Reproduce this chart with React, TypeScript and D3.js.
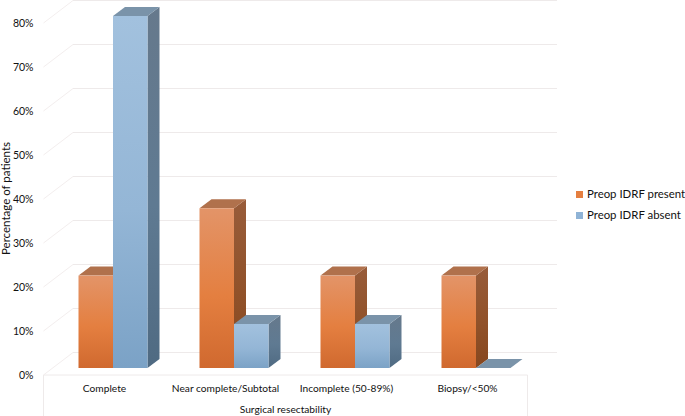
import React from "react";
import * as d3 from "d3";

const categories = ["Complete", "Near complete/Subtotal", "Incomplete (50-89%)", "Biopsy/<50%"];
const seriesNames = ["Preop IDRF present", "Preop IDRF absent"];
const presentValues = [21, 36.3, 21, 21];
const absentValues = [80, 10, 10, 0];
const yTicks = [0, 10, 20, 30, 40, 50, 60, 70, 80];

const W = 685;
const H = 416;

const seriesStyle = [
  { top: "#b0714c", side: "url(#sideOrange)", front: "url(#frontOrange)", key: "#e57f40" },
  { top: "#7a93a9", side: "url(#sideBlue)", front: "url(#frontBlue)", key: "#8fb3d6" },
];

export default function App() {
  // three depths of the fake 3d box: front edge, bars, back wall
  const yFront = d3.scaleLinear().domain([0, 80]).range([375, 23]);
  const yBar = d3.scaleLinear().domain([0, 80]).range([368, 16]);
  const yWall = d3.scaleLinear().domain([0, 80]).range([352.5, 0.5]);

  const xBand = d3.scaleBand().domain(categories).range([43.5, 527.5]);
  const xBarBand = d3.scaleBand().domain(categories).range([52.5, 536.5]);
  const xSeries = d3.scaleBand().domain(seriesNames).range([0, 69]);

  const depthX = 12;
  const depthY = 9;
  const wallDx = 29.5;
  const line = d3.line();
  const gridColor = "#eeeaea";
  const sideColor = "#f3eeee";

  const bars = categories.flatMap((c, i) =>
    [presentValues[i], absentValues[i]].map((v, s) => {
      const x0 = xBarBand(c)! + xBarBand.bandwidth() / 2 - 34.5 + xSeries(seriesNames[s])!;
      const x1 = x0 + xSeries.bandwidth();
      return { c, v, s, x0, x1, yTop: yBar(v), yBase: yBar(0) };
    })
  );

  const shape = (pts: [number, number][]) => line(pts) + "Z";

  return (
    <svg
      width={W}
      height={H}
      style={{ position: "absolute", left: 0, top: 0, background: "#fff" }}
      fontFamily="Lato, sans-serif"
      fontSize={10.2}
      fill="#111"
    >
      <defs>
        <linearGradient id="frontOrange" x1="0" y1="0" x2="0" y2="1">
          <stop offset="0" stopColor="#e39468" />
          <stop offset="0.55" stopColor="#e47f40" />
          <stop offset="1" stopColor="#d0692f" />
        </linearGradient>
        <linearGradient id="sideOrange" x1="0" y1="0" x2="0" y2="1">
          <stop offset="0" stopColor="#985c3a" />
          <stop offset="0.55" stopColor="#91522a" />
          <stop offset="1" stopColor="#86471f" />
        </linearGradient>
        <linearGradient id="frontBlue" x1="0" y1="0" x2="0" y2="1">
          <stop offset="0" stopColor="#a2c1de" />
          <stop offset="0.55" stopColor="#94b6d6" />
          <stop offset="1" stopColor="#7ba2c6" />
        </linearGradient>
        <linearGradient id="sideBlue" x1="0" y1="0" x2="0" y2="1">
          <stop offset="0" stopColor="#66798c" />
          <stop offset="0.55" stopColor="#5f7a92" />
          <stop offset="1" stopColor="#4f6a82" />
        </linearGradient>
      </defs>

      {/* back wall, left wall and floor */}
      {yTicks.map((t) => (
        <g key={t} fill="none">
          <path d={line([[43.5, yFront(t)], [43.5 + wallDx, yWall(t)]])!} stroke={sideColor} />
          <path d={line([[43.5 + wallDx, yWall(t)], [557, yWall(t)]])!} stroke={gridColor} />
        </g>
      ))}
      <path
        d={line([[43.5, H], [43.5, yFront(0)], [527.5, yFront(0)], [527.5, H]])!}
        stroke={gridColor}
        fill="none"
      />

      {/* bars */}
      {bars.map((b) => {
        const st = seriesStyle[b.s];
        return (
          <g key={b.c + b.s}>
            {b.v > 0 && (
              <path
                d={shape([
                  [b.x1, b.yBase],
                  [b.x1 + depthX, b.yBase - depthY],
                  [b.x1 + depthX, b.yTop - depthY],
                  [b.x1, b.yTop],
                ])}
                fill={st.side}
              />
            )}
            <path
              d={shape([
                [b.x0, b.yTop],
                [b.x0 + depthX, b.yTop - depthY],
                [b.x1 + depthX, b.yTop - depthY],
                [b.x1, b.yTop],
              ])}
              fill={st.top}
            />
            {b.v > 0 && (
              <rect x={b.x0} y={b.yTop} width={b.x1 - b.x0} height={b.yBase - b.yTop} fill={st.front} />
            )}
          </g>
        );
      })}

      {/* y tick labels */}
      {yTicks.map((t) => (
        <text key={t} x={33.5} y={yFront(t)} textAnchor="end" dy="0.35em" fontSize={10.5}>
          {t}%
        </text>
      ))}
      <text transform="translate(10,198.5) rotate(-90)" textAnchor="middle" fontSize={11.5}>
        Percentage of patients
      </text>

      {/* category labels */}
      {categories.map((c) => (
        <text key={c} x={xBand(c)! + xBand.bandwidth() / 2 + 0.5} y={392} textAnchor="middle">
          {c}
        </text>
      ))}
      <text x={285.5} y={412.5} textAnchor="middle">
        Surgical resectability
      </text>

      {/* legend */}
      {seriesNames.map((n, i) => (
        <g key={n} transform={`translate(576,${198 + i * 21})`}>
          <rect x={0} y={-7} width={7} height={7} fill={seriesStyle[i].key} />
          <text x={11} y={0} fontSize={11.4}>
            {n}
          </text>
        </g>
      ))}
    </svg>
  );
}
